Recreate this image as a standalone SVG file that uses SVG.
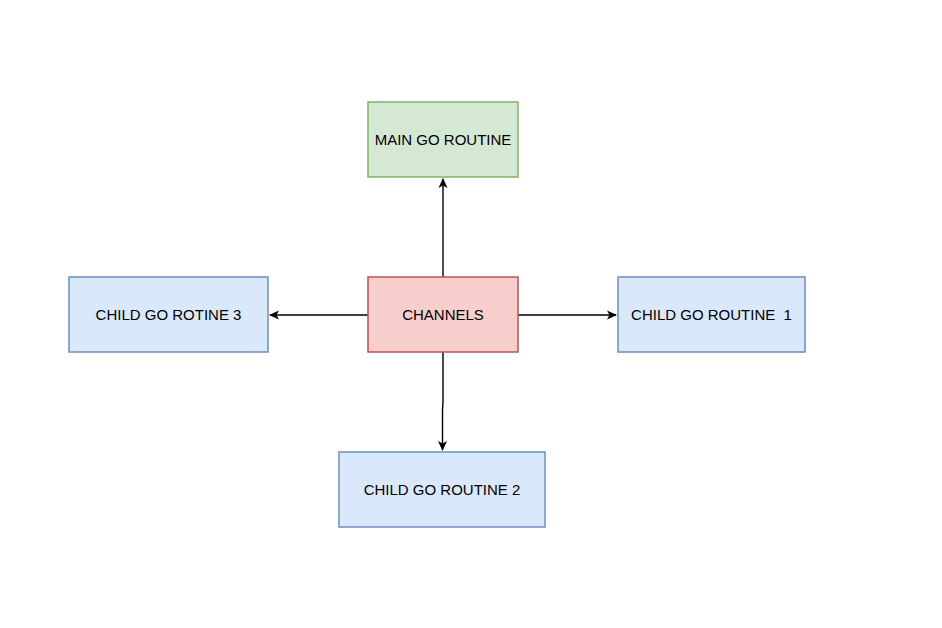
<svg xmlns="http://www.w3.org/2000/svg" width="942" height="628" viewBox="0 0 942 628">
<style>
.t{font-family:"Liberation Sans",Arial,sans-serif;font-size:15px;fill:#000;text-anchor:middle;dominant-baseline:central}
.g{fill:#d5e8d4;stroke:#82b366;stroke-width:1.5}
.r{fill:#f8cecc;stroke:#b85450;stroke-width:1.5}
.b{fill:#dae8fc;stroke:#6c8ebf;stroke-width:1.5}
.c{fill:none;stroke:#000;stroke-width:1.4}
</style>
<defs>
<marker id="a" viewBox="0 0 10 10" refX="9" refY="5" markerWidth="10" markerHeight="10" markerUnits="userSpaceOnUse" orient="auto">
<path d="M0,0.5 L10,5 L0,9.5 L2.5,5 Z" fill="#000"/>
</marker>
</defs>
<rect width="942" height="628" fill="#fff"/>
<g id="connectors">
<path class="c" d="M443,277 L443,179" marker-end="url(#a)"/>
<path class="c" d="M518,315 L616,315" marker-end="url(#a)"/>
<path class="c" d="M368,315 L270,315" marker-end="url(#a)"/>
<path class="c" d="M443,352 L443,402 L442.5,410 L442.5,450" marker-end="url(#a)"/>
</g>
<g id="main"><rect class="g" x="368" y="102" width="150" height="75"/><text class="t" x="443" y="139.5">MAIN GO ROUTINE</text></g>
<g id="channels"><rect class="r" x="368" y="277" width="150" height="75"/><text class="t" x="443" y="314.5">CHANNELS</text></g>
<g id="child1"><rect class="b" x="618" y="277" width="187" height="75"/><text class="t" x="711.5" y="314.5" xml:space="preserve">CHILD GO ROUTINE  1</text></g>
<g id="child3"><rect class="b" x="69" y="277" width="199" height="75"/><text class="t" x="168.5" y="314.5">CHILD GO ROTINE 3</text></g>
<g id="child2"><rect class="b" x="339" y="452" width="206" height="75"/><text class="t" x="442" y="489.5">CHILD GO ROUTINE 2</text></g>
</svg>
